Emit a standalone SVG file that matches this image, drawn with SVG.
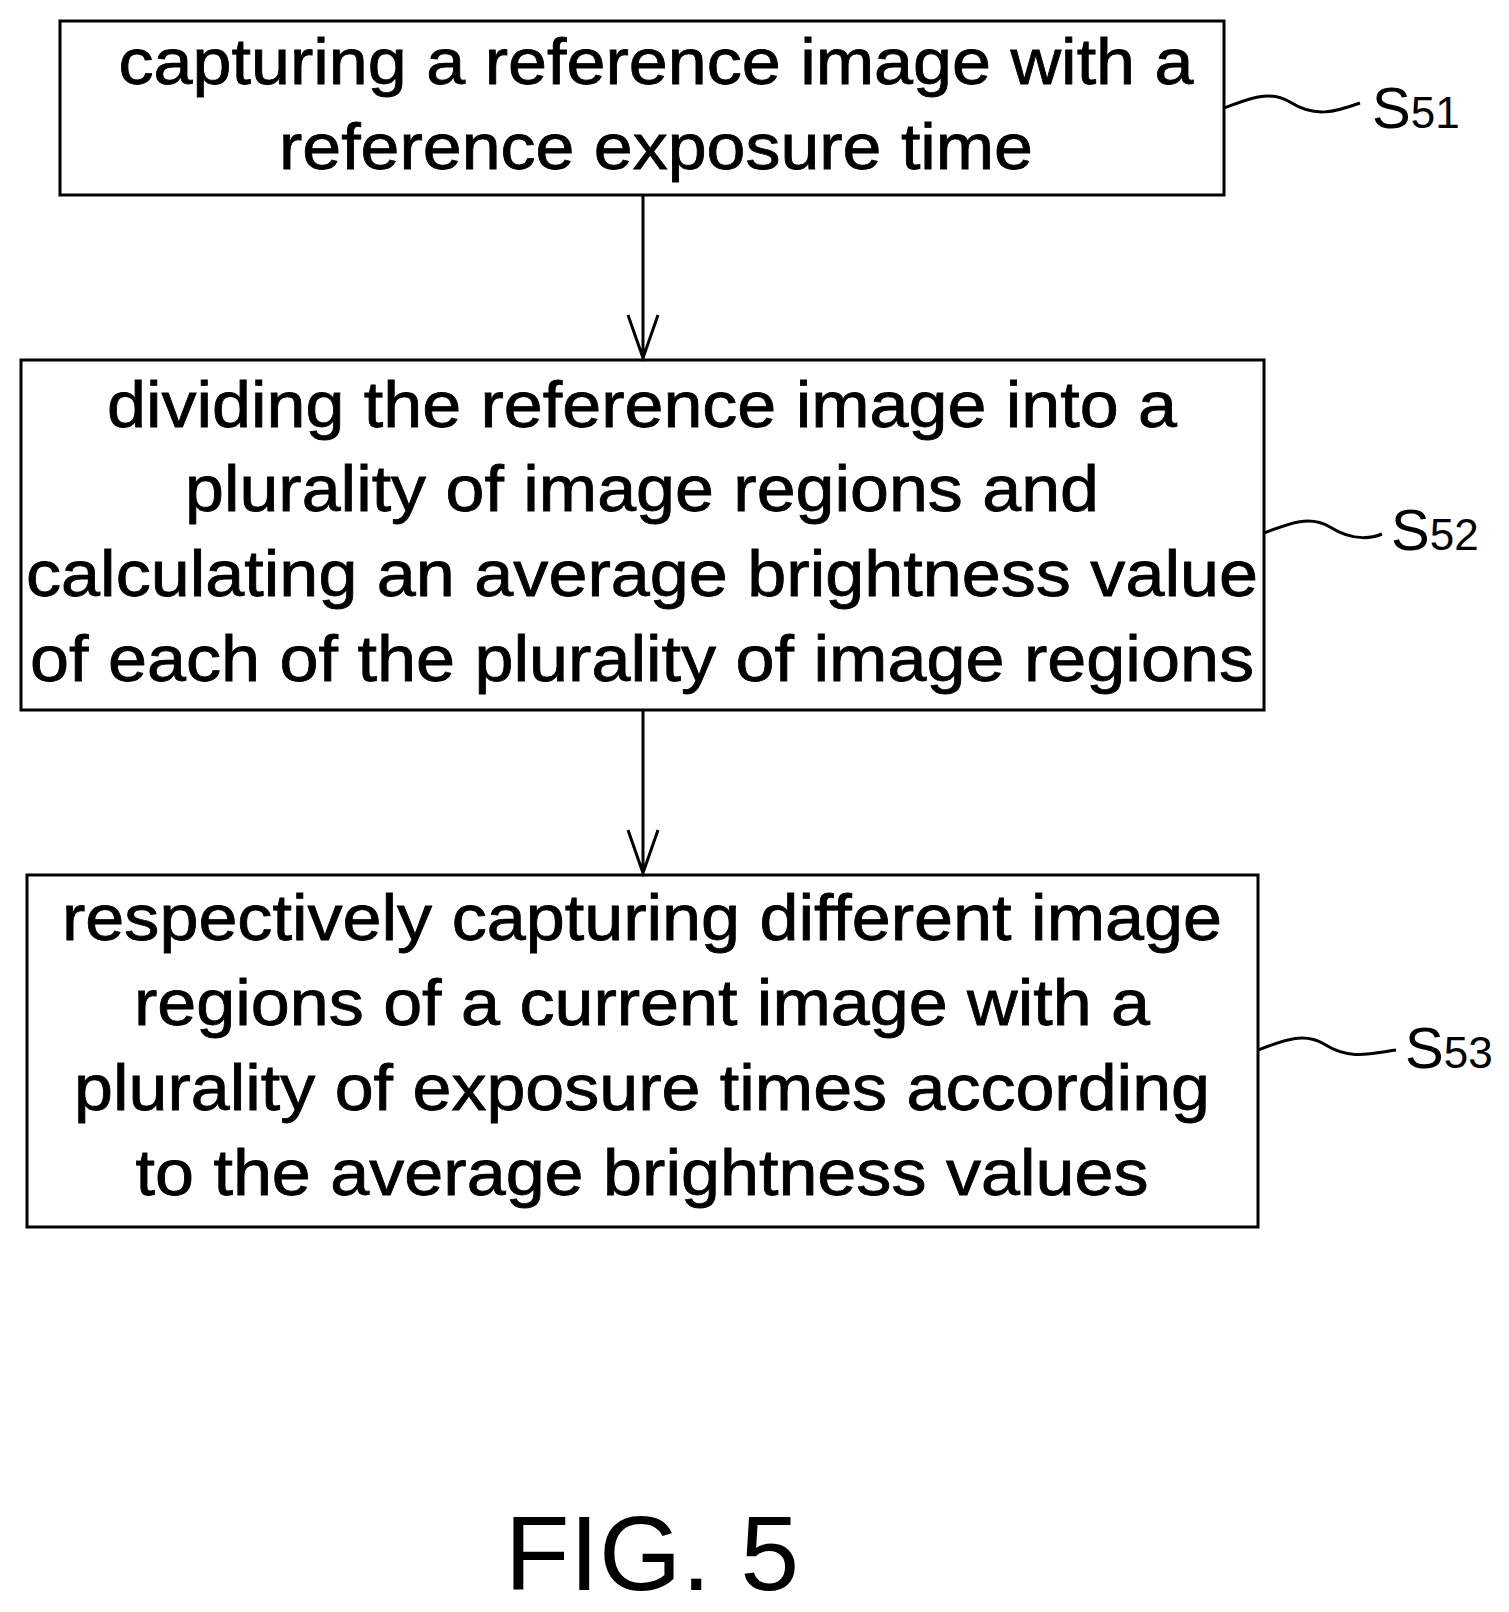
<svg xmlns="http://www.w3.org/2000/svg" width="1509" height="1612" viewBox="0 0 1509 1612">
<style>
.box{fill:#fff;stroke:#000;stroke-width:3}
.t{font-family:"Liberation Sans",Arial,sans-serif;font-size:64px;text-anchor:middle;fill:#000;stroke:#000;stroke-width:0.8}
.l{font-family:"Liberation Sans",Arial,sans-serif;font-size:58px;fill:#000}
.l tspan{font-size:44px}
.c{fill:none;stroke:#000;stroke-width:3}
</style>
<rect width="1509" height="1612" fill="#fff"/>
<g id="s51"><rect class="box" x="60" y="21" width="1164" height="174"/>
<text class="t" x="656" y="84" textLength="1075" lengthAdjust="spacingAndGlyphs">capturing a reference image with a</text>
<text class="t" x="656" y="169" textLength="754" lengthAdjust="spacingAndGlyphs">reference exposure time</text></g>
<g id="s52"><rect class="box" x="21" y="360" width="1243" height="350"/>
<text class="t" x="642" y="427" textLength="1070" lengthAdjust="spacingAndGlyphs">dividing the reference image into a</text>
<text class="t" x="642" y="511" textLength="914" lengthAdjust="spacingAndGlyphs">plurality of image regions and</text>
<text class="t" x="642" y="596" textLength="1232" lengthAdjust="spacingAndGlyphs">calculating an average brightness value</text>
<text class="t" x="642" y="681" textLength="1224" lengthAdjust="spacingAndGlyphs">of each of the plurality of image regions</text></g>
<g id="s53"><rect class="box" x="27" y="875" width="1231" height="352"/>
<text class="t" x="642" y="940" textLength="1160" lengthAdjust="spacingAndGlyphs">respectively capturing different image</text>
<text class="t" x="642" y="1025" textLength="1016" lengthAdjust="spacingAndGlyphs">regions of a current image with a</text>
<text class="t" x="642" y="1110" textLength="1136" lengthAdjust="spacingAndGlyphs">plurality of exposure times according</text>
<text class="t" x="642" y="1195" textLength="1013" lengthAdjust="spacingAndGlyphs">to the average brightness values</text></g>
<g id="connectors">
<path class="c" d="M643 195V358M628 315L643 358L658 315"/>
<path class="c" d="M643 710V873M628 830L643 873L658 830"/>
<path class="c" d="M1224 108C1250 98 1270 90 1290 102C1315 118 1335 112 1360 103"/>
<path class="c" d="M1264 533C1290 523 1310 515 1330 527C1355 543 1375 537 1382 534"/>
<path class="c" d="M1258 1050C1284 1040 1304 1032 1324 1044C1349 1060 1369 1054 1396 1050"/>
</g>
<g id="labels">
<text class="l" x="1372" y="128">S<tspan>51</tspan></text>
<text class="l" x="1391" y="550">S<tspan>52</tspan></text>
<text class="l" x="1405" y="1068">S<tspan>53</tspan></text>
<text x="652" y="1590" font-family="Liberation Sans,Arial,sans-serif" font-size="106" text-anchor="middle">FIG. 5</text>
</g>
</svg>
